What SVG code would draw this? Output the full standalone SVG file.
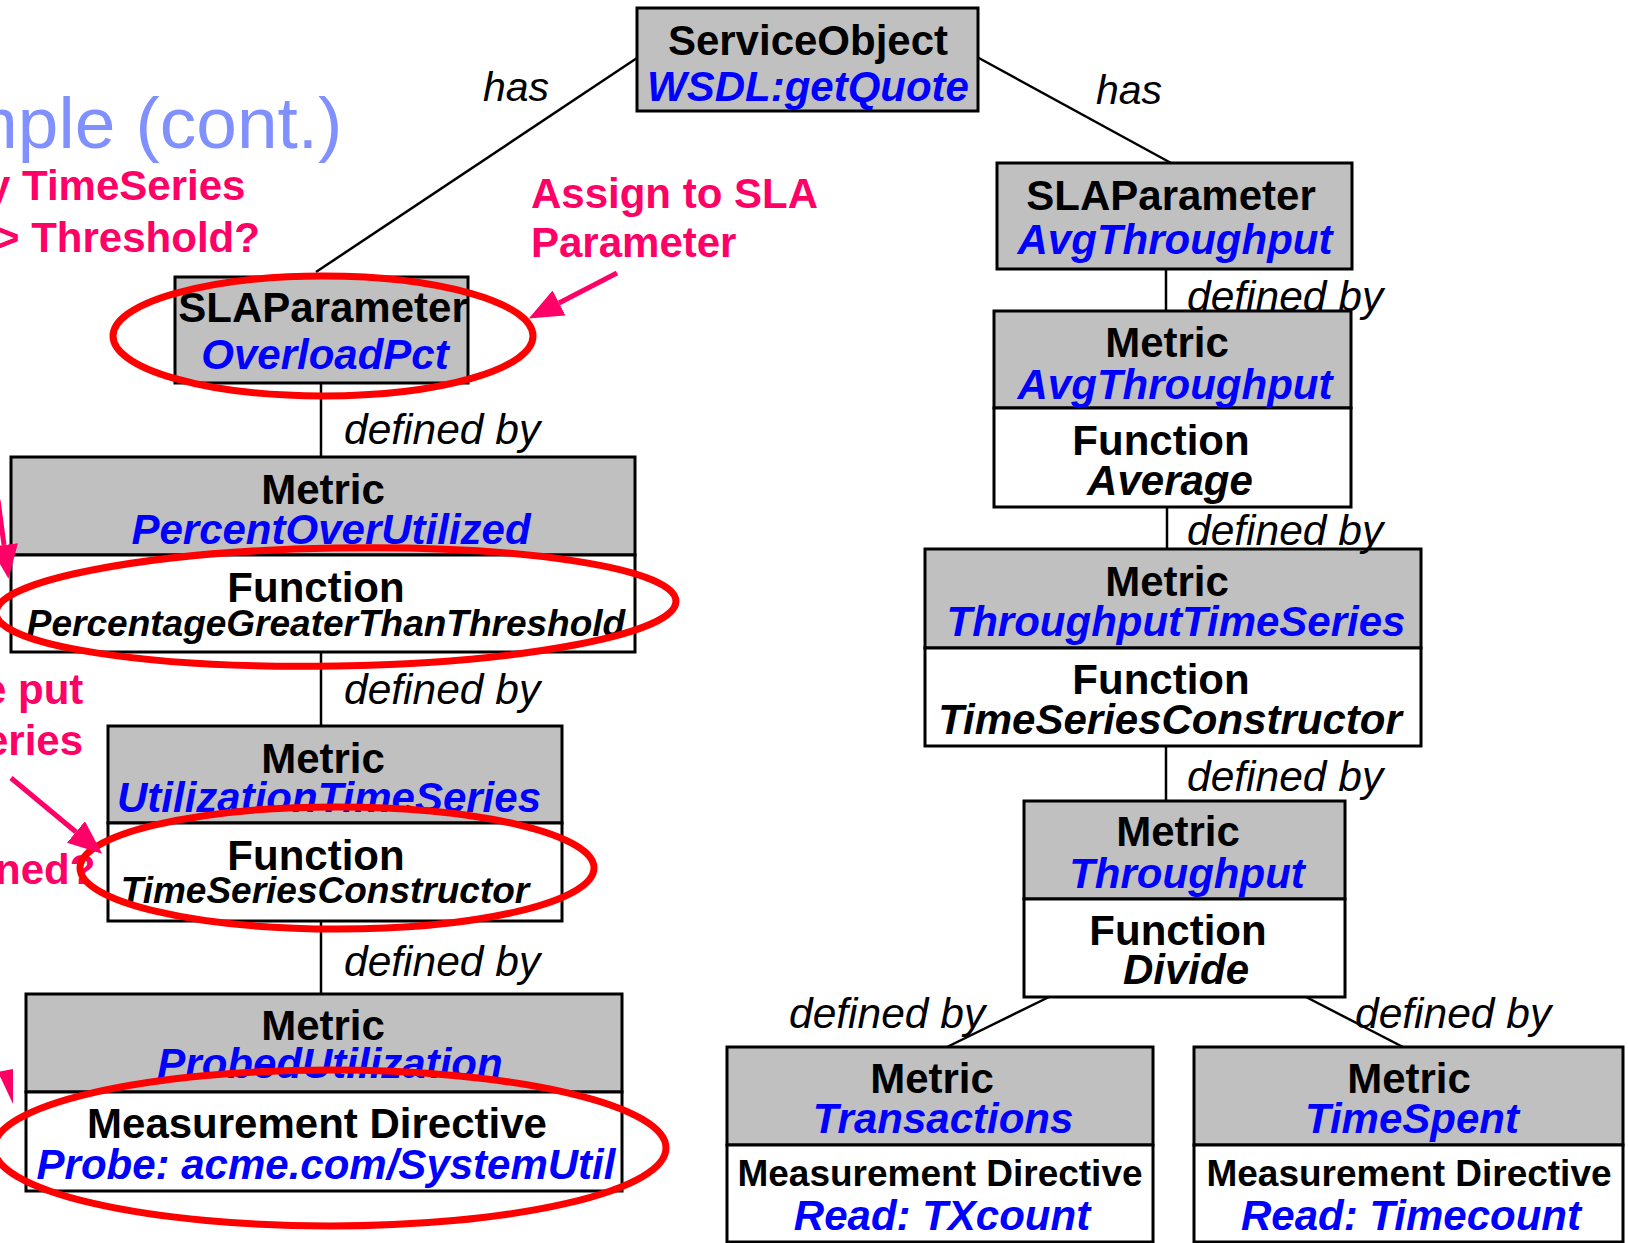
<svg xmlns="http://www.w3.org/2000/svg" width="1628" height="1243" viewBox="0 0 1628 1243">
<style>
.box{stroke:#000;stroke-width:3}
.hd{fill:#c0c0c0}
.bd{fill:#fff}
text{font-family:"Liberation Sans",Arial,Helvetica,sans-serif}
.t{font-weight:bold;font-size:42px;text-anchor:middle;fill:#000}
.n{fill:#0000ff;font-style:italic}
.f{font-style:italic}
.s37{font-size:37px}
.lbl{font-style:italic;font-size:42.5px;fill:#000}
.has{font-size:41px}
.conn{stroke:#000;stroke-width:2.5;fill:none}
.ell{fill:none;stroke:#ff0000;stroke-width:7}
.pink{fill:#ff0066;font-weight:bold;font-size:42px}
.parrow{stroke:#ff0066;stroke-width:5;fill:none;marker-end:url(#ph)}
.title{fill:#8090ff;font-size:73px}
</style>
<defs>
<marker id="ph" markerUnits="userSpaceOnUse" viewBox="0 0 34 28" refX="0" refY="14" markerWidth="34" markerHeight="28" orient="auto">
<path d="M0,0 L34,14 L0,28 z" fill="#ff0066"/>
</marker>
</defs>
<rect width="1628" height="1243" fill="#fff"/>

<g id="annotations-text">
<text class="title" x="-43" y="148">mple (cont.)</text>
<text class="pink" x="-13" y="200">y TimeSeries</text>
<text class="pink" x="-5" y="252">&gt; Threshold?</text>
<text class="pink" x="531" y="208">Assign to SLA</text>
<text class="pink" x="531" y="257">Parameter</text>
<text class="pink" x="-17" y="704">e put</text>
<text class="pink" x="-15" y="755">eries</text>
<text class="pink" x="-5" y="884">ned?</text>
</g>

<g id="connectors">
<line class="conn" x1="637" y1="58" x2="316" y2="272"/>
<line class="conn" x1="977" y1="57" x2="1171" y2="163"/>
<line class="conn" x1="321" y1="383" x2="321" y2="457"/>
<line class="conn" x1="321" y1="652" x2="321" y2="726"/>
<line class="conn" x1="321" y1="921" x2="321" y2="994"/>
<line class="conn" x1="1166" y1="269" x2="1166" y2="311"/>
<line class="conn" x1="1167" y1="507" x2="1167" y2="549"/>
<line class="conn" x1="1166" y1="746" x2="1166" y2="801"/>
<line class="conn" x1="1049" y1="997" x2="947" y2="1047"/>
<line class="conn" x1="1306" y1="997" x2="1403" y2="1047"/>
</g>

<g id="node-serviceobject">
<rect class="box hd" x="637" y="8" width="341" height="103"/>
<text class="t" x="808" y="55">ServiceObject</text>
<text class="t n" x="808" y="101">WSDL:getQuote</text>
</g>

<g id="node-sla-overloadpct">
<rect class="box hd" x="175" y="277" width="293" height="106"/>
<text class="t" x="323" y="322">SLAParameter</text>
<text class="t n" x="325" y="369">OverloadPct</text>
</g>

<g id="node-metric-percentoverutilized">
<rect class="box hd" x="11" y="457" width="624" height="98"/>
<rect class="box bd" x="11" y="555" width="624" height="97"/>
<text class="t" x="323" y="504">Metric</text>
<text class="t n" x="331" y="544">PercentOverUtilized</text>
<text class="t" x="316" y="602">Function</text>
<text class="t f s37" x="326" y="636">PercentageGreaterThanThreshold</text>
</g>

<g id="node-metric-utilizationtimeseries">
<rect class="box hd" x="108" y="726" width="454" height="97"/>
<rect class="box bd" x="108" y="823" width="454" height="98"/>
<text class="t" x="323" y="773">Metric</text>
<text class="t n" x="329" y="812">UtilizationTimeSeries</text>
<text class="t" x="316" y="870">Function</text>
<text class="t f s37" x="325" y="903">TimeSeriesConstructor</text>
</g>

<g id="node-metric-probedutilization">
<rect class="box hd" x="26" y="994" width="596" height="98"/>
<rect class="box bd" x="26" y="1092" width="596" height="99"/>
<text class="t" x="323" y="1040">Metric</text>
<text class="t n" x="330" y="1078">ProbedUtilization</text>
<text class="t" x="317" y="1138">Measurement Directive</text>
<text class="t n" x="326" y="1179">Probe: acme.com/SystemUtil</text>
</g>

<g id="node-sla-avgthroughput">
<rect class="box hd" x="997" y="163" width="355" height="106"/>
<text class="t" x="1171" y="210">SLAParameter</text>
<text class="t n" x="1175" y="254">AvgThroughput</text>
</g>

<g id="node-metric-avgthroughput">
<rect class="box hd" x="994" y="311" width="357" height="97"/>
<rect class="box bd" x="994" y="408" width="357" height="99"/>
<text class="t" x="1167" y="357">Metric</text>
<text class="t n" x="1175" y="399">AvgThroughput</text>
<text class="t" x="1161" y="455">Function</text>
<text class="t f" x="1170" y="495">Average</text>
</g>

<g id="node-metric-throughputtimeseries">
<rect class="box hd" x="925" y="549" width="496" height="99"/>
<rect class="box bd" x="925" y="648" width="496" height="98"/>
<text class="t" x="1167" y="596">Metric</text>
<text class="t n" x="1176" y="636">ThroughputTimeSeries</text>
<text class="t" x="1161" y="694">Function</text>
<text class="t f" x="1170" y="734">TimeSeriesConstructor</text>
</g>

<g id="node-metric-throughput">
<rect class="box hd" x="1024" y="801" width="321" height="98"/>
<rect class="box bd" x="1024" y="899" width="321" height="98"/>
<text class="t" x="1178" y="846">Metric</text>
<text class="t n" x="1187" y="888">Throughput</text>
<text class="t" x="1178" y="945">Function</text>
<text class="t f" x="1186" y="984">Divide</text>
</g>

<g id="node-metric-transactions">
<rect class="box hd" x="727" y="1047" width="426" height="98"/>
<rect class="box bd" x="727" y="1145" width="426" height="97"/>
<text class="t" x="932" y="1093">Metric</text>
<text class="t n" x="943" y="1133">Transactions</text>
<text class="t s37" x="940" y="1186">Measurement Directive</text>
<text class="t n" x="942" y="1230">Read: TXcount</text>
</g>

<g id="node-metric-timespent">
<rect class="box hd" x="1194" y="1047" width="429" height="98"/>
<rect class="box bd" x="1194" y="1145" width="429" height="97"/>
<text class="t" x="1409" y="1093">Metric</text>
<text class="t n" x="1412" y="1133">TimeSpent</text>
<text class="t s37" x="1409" y="1186">Measurement Directive</text>
<text class="t n" x="1411" y="1230">Read: Timecount</text>
</g>

<g id="connector-labels">
<text class="lbl has" x="483" y="101">has</text>
<text class="lbl has" x="1096" y="104">has</text>
<text class="lbl" x="344" y="444">defined by</text>
<text class="lbl" x="344" y="704">defined by</text>
<text class="lbl" x="344" y="976">defined by</text>
<text class="lbl" x="1187" y="311">defined by</text>
<text class="lbl" x="1187" y="545">defined by</text>
<text class="lbl" x="1187" y="791">defined by</text>
<text class="lbl" x="789" y="1028">defined by</text>
<text class="lbl" x="1355" y="1028">defined by</text>
</g>

<g id="highlights">
<ellipse class="ell" cx="323" cy="336" rx="210" ry="60"/>
<ellipse class="ell" cx="336" cy="607" rx="340" ry="59" transform="rotate(-1 336 607)"/>
<ellipse class="ell" cx="337" cy="868" rx="257" ry="61"/>
<ellipse class="ell" cx="330" cy="1148" rx="336" ry="78"/>
</g>

<g id="pink-arrows">
<line class="parrow" x1="617" y1="273" x2="559" y2="303"/>
<line class="parrow" x1="11" y1="778" x2="76" y2="832"/>
<line class="parrow" x1="-2" y1="500" x2="4" y2="545"/>
<polygon points="-2,1072 13,1069 13,1104" fill="#ff0066"/>
</g>
</svg>
